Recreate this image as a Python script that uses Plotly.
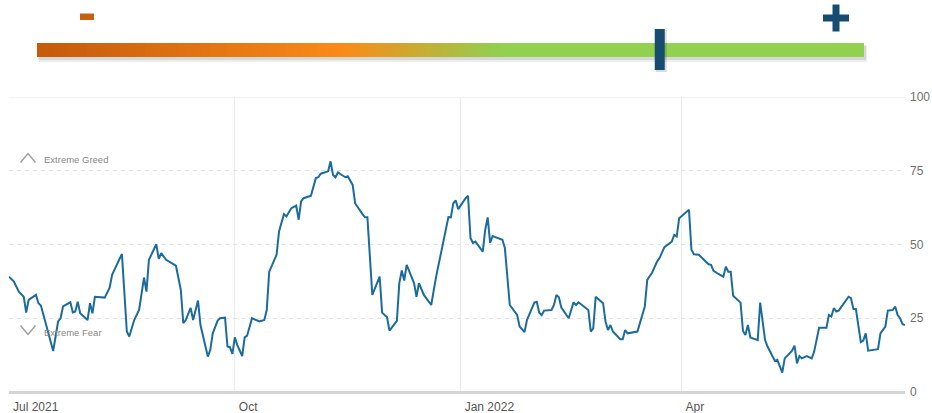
import plotly.graph_objects as go
import numpy as np

W, H = 932, 413

# ---------------- data ----------------
dates = [
    "2021-07-01", "2021-07-03", "2021-07-05", "2021-07-07", "2021-07-08", "2021-07-09",
    "2021-07-12", "2021-07-13", "2021-07-14", "2021-07-16", "2021-07-19", "2021-07-21",
    "2021-07-22", "2021-07-23", "2021-07-26", "2021-07-27", "2021-07-28", "2021-07-29",
    "2021-07-30", "2021-08-02", "2021-08-03", "2021-08-04", "2021-08-05", "2021-08-09",
    "2021-08-11", "2021-08-12", "2021-08-16", "2021-08-18", "2021-08-19", "2021-08-21",
    "2021-08-23", "2021-08-25", "2021-08-26", "2021-08-27", "2021-08-30", "2021-08-31",
    "2021-09-01", "2021-09-03", "2021-09-07", "2021-09-09", "2021-09-10", "2021-09-11",
    "2021-09-13", "2021-09-14", "2021-09-16", "2021-09-17", "2021-09-20", "2021-09-21",
    "2021-09-22", "2021-09-24", "2021-09-25", "2021-09-27", "2021-09-28", "2021-09-29",
    "2021-09-30", "2021-10-01", "2021-10-02", "2021-10-04", "2021-10-05", "2021-10-06",
    "2021-10-08", "2021-10-11", "2021-10-13", "2021-10-14", "2021-10-15", "2021-10-18",
    "2021-10-19", "2021-10-21", "2021-10-22", "2021-10-24", "2021-10-26", "2021-10-27",
    "2021-10-28", "2021-10-29", "2021-11-01", "2021-11-03", "2021-11-04", "2021-11-05",
    "2021-11-08", "2021-11-09", "2021-11-10", "2021-11-11", "2021-11-12", "2021-11-15",
    "2021-11-16", "2021-11-18", "2021-11-19", "2021-11-22", "2021-11-23", "2021-11-24",
    "2021-11-26", "2021-11-29", "2021-11-30", "2021-12-02", "2021-12-03", "2021-12-06",
    "2021-12-07", "2021-12-08", "2021-12-09", "2021-12-10", "2021-12-13", "2021-12-14",
    "2021-12-15", "2021-12-17", "2021-12-20", "2021-12-22", "2021-12-27", "2021-12-28",
    "2021-12-29", "2021-12-30", "2021-12-31", "2022-01-03", "2022-01-04", "2022-01-05",
    "2022-01-06", "2022-01-07", "2022-01-10", "2022-01-11", "2022-01-12", "2022-01-13",
    "2022-01-14", "2022-01-18", "2022-01-19", "2022-01-21", "2022-01-24", "2022-01-25",
    "2022-01-27", "2022-01-28", "2022-01-31", "2022-02-01", "2022-02-02", "2022-02-03",
    "2022-02-04", "2022-02-07", "2022-02-08", "2022-02-09", "2022-02-10", "2022-02-11",
    "2022-02-14", "2022-02-16", "2022-02-17", "2022-02-18", "2022-02-22", "2022-02-23",
    "2022-02-24", "2022-02-25", "2022-02-28", "2022-03-01", "2022-03-02", "2022-03-03",
    "2022-03-04", "2022-03-07", "2022-03-08", "2022-03-09", "2022-03-10", "2022-03-14",
    "2022-03-15", "2022-03-16", "2022-03-17", "2022-03-18", "2022-03-20", "2022-03-22",
    "2022-03-23", "2022-03-25", "2022-03-28", "2022-03-29", "2022-03-30", "2022-03-31",
    "2022-04-04", "2022-04-05", "2022-04-06", "2022-04-08", "2022-04-10", "2022-04-12",
    "2022-04-13", "2022-04-14", "2022-04-16", "2022-04-18", "2022-04-19", "2022-04-20",
    "2022-04-21", "2022-04-22", "2022-04-25", "2022-04-26", "2022-04-27", "2022-04-28",
    "2022-04-29", "2022-05-02", "2022-05-03", "2022-05-04", "2022-05-05", "2022-05-06",
    "2022-05-09", "2022-05-10", "2022-05-11", "2022-05-12", "2022-05-13", "2022-05-16",
    "2022-05-17", "2022-05-18", "2022-05-19", "2022-05-20", "2022-05-22", "2022-05-24",
    "2022-05-25", "2022-05-27", "2022-05-30", "2022-05-31", "2022-06-01", "2022-06-02",
    "2022-06-03", "2022-06-04", "2022-06-08", "2022-06-09", "2022-06-10", "2022-06-11",
    "2022-06-13", "2022-06-14", "2022-06-15", "2022-06-16", "2022-06-20", "2022-06-21",
    "2022-06-23", "2022-06-24", "2022-06-26", "2022-06-27", "2022-06-28", "2022-06-29",
    "2022-06-30", "2022-07-01",
]

index_values = [
    39.1, 37.4, 34.0, 32.3, 26.9, 31.2,
    32.9, 30.1, 29.3, 23.3, 13.9, 23.9,
    25.0, 29.0, 30.4, 27.0, 27.3, 30.6,
    26.7, 24.4, 30.1, 26.7, 32.3, 32.0,
    35.4, 39.7, 46.8, 20.5, 18.8, 24.4,
    27.8, 38.8, 34.0, 44.8, 50.1, 45.1,
    47.1, 44.8, 42.8, 34.6, 23.3, 24.4,
    28.5, 24.4, 31.0, 22.7, 12.0, 14.3,
    19.9, 24.2, 25.0, 25.2, 15.4, 15.2,
    12.9, 18.5, 15.9, 12.2, 18.5, 19.1,
    25.0, 23.9, 24.4, 27.8, 40.8, 46.5,
    54.4, 60.3, 59.5, 62.3, 63.2, 58.4,
    64.6, 65.7, 66.5, 72.5, 72.8, 74.0,
    74.8, 78.2, 73.6, 72.8, 74.4, 72.8,
    73.1, 70.2, 64.0, 60.3, 59.2, 59.2,
    32.9, 39.1, 26.9, 25.3, 20.8, 24.1,
    36.9, 41.2, 37.8, 43.1, 36.9, 32.3,
    36.9, 32.9, 29.5, 39.1, 59.3, 59.2,
    64.0, 64.9, 62.0, 65.7, 66.5, 52.2,
    50.5, 51.0, 47.6, 55.0, 59.2, 50.5,
    52.9, 51.6, 48.8, 29.5, 26.1, 22.2,
    20.3, 24.4, 30.3, 30.6, 26.9, 26.1,
    27.6, 27.8, 29.5, 32.9, 32.1, 28.6,
    25.0, 30.4, 29.5, 30.4, 27.8, 20.5,
    21.6, 32.3, 30.1, 23.9, 21.0, 22.7,
    20.5, 17.9, 17.9, 21.0, 19.9, 20.5,
    23.3, 25.6, 29.0, 38.0, 40.5, 44.2,
    45.4, 49.1, 51.0, 53.3, 52.7, 58.9,
    61.8, 48.2, 46.7, 46.5, 44.8, 43.3,
    43.1, 41.1, 40.0, 39.1, 42.5, 40.8,
    40.8, 32.6, 30.3, 20.7, 19.3, 22.7,
    18.5, 17.6, 30.3, 23.3, 17.6, 15.4,
    10.5, 10.9, 8.4, 6.6, 11.4, 14.0,
    15.7, 9.7, 12.2, 11.4, 12.2, 11.4,
    13.7, 21.8, 21.8, 26.1, 25.6, 28.4,
    27.3, 27.6, 32.3, 31.8, 28.1, 28.1,
    16.9, 17.4, 19.9, 14.0, 14.5, 19.9,
    22.2, 27.6, 27.8, 29.0, 26.1, 25.0,
    23.0, 22.7,
]

x_tick_dates = ["2021-07-01", "2021-10-01", "2022-01-01", "2022-04-01"]
x_tick_labels = ["Jul 2021", "Oct", "Jan 2022", "Apr"]
y_tick_vals = [0, 25, 50, 75, 100]
y_tick_labels = ["0", "25", "50", "75", "100"]

zone_labels = ["Extreme Greed", "Extreme Fear"]

gauge_value = 75.3          # marker position on the 0-100 gauge
gauge_scale = np.arange(0.5, 100, 1.0)

# ---------------- helpers (pixel -> paper) ----------------
def px(x):
    return x / W

def py(y):
    return (H - y) / H

LINE_COLOR = "#1b6c9d"
FONT = "Liberation Sans, Arial, sans-serif"

fig = go.Figure()

# main series
fig.add_trace(go.Scatter(
    x=dates, y=index_values, mode="lines",
    line=dict(color=LINE_COLOR, width=2),
    xaxis="x", yaxis="y", showlegend=False, hoverinfo="x+y",
))

# gauge gradient bar
fig.add_trace(go.Heatmap(
    z=[list(gauge_scale)], x=list(gauge_scale), y=[0.5],
    colorscale=[[0, "#c45a0b"], [0.37, "#fb8a18"], [0.56, "#92d050"], [1, "#92d050"]],
    zmin=0, zmax=100, showscale=False, hoverinfo="skip",
    xaxis="x2", yaxis="y2",
))

shapes = []
# bar shadow (soft)
shapes.append(dict(type="rect", xref="paper", yref="paper",
                   x0=px(39), x1=px(867), y0=py(62), y1=py(46),
                   fillcolor="rgba(0,0,0,0.07)", line=dict(width=0), layer="below"))
shapes.append(dict(type="rect", xref="paper", yref="paper",
                   x0=px(38), x1=px(866), y0=py(60), y1=py(45),
                   fillcolor="rgba(0,0,0,0.09)", line=dict(width=0), layer="below"))
# gauge marker (shadow + bar)
shapes.append(dict(type="rect", xref="x2", yref="paper", xsizemode="pixel",
                   xanchor=gauge_value, x0=-4, x1=7, y0=py(72), y1=py(30),
                   fillcolor="rgba(0,0,0,0.14)", line=dict(width=0)))
shapes.append(dict(type="rect", xref="x2", yref="paper", xsizemode="pixel",
                   xanchor=gauge_value, x0=-5, x1=5, y0=py(70), y1=py(29),
                   fillcolor="#174c71", line=dict(width=0)))
# minus icon
shapes.append(dict(type="rect", xref="paper", yref="paper",
                   x0=px(80), x1=px(94), y0=py(20), y1=py(13.5),
                   fillcolor="#c8600f", line=dict(width=0)))
# plus icon
shapes.append(dict(type="rect", xref="paper", yref="paper",
                   x0=px(823), x1=px(849), y0=py(21.5), y1=py(14.5),
                   fillcolor="#174c71", line=dict(width=0)))
shapes.append(dict(type="rect", xref="paper", yref="paper",
                   x0=px(832.5), x1=px(839.5), y0=py(31.5), y1=py(4.5),
                   fillcolor="#174c71", line=dict(width=0)))
# solid top gridline at 100
shapes.append(dict(type="line", xref="x domain", yref="y",
                   x0=0, x1=1, y0=100, y1=100,
                   line=dict(color="#e8e8e8", width=1), layer="below"))
# chevrons
def chev(x0, x1, ya, yb):
    xm = (x0 + x1) / 2
    return f"M {px(x0)} {py(yb)} L {px(xm)} {py(ya)} L {px(x1)} {py(yb)}"

shapes.append(dict(type="path", xref="paper", yref="paper",
                   path=chev(20.5, 35.5, 153.5, 162.5),
                   line=dict(color="#9a9a9a", width=1.3)))
shapes.append(dict(type="path", xref="paper", yref="paper",
                   path=chev(20.5, 35.5, 334.5, 325.5),
                   line=dict(color="#9a9a9a", width=1.3)))

annotations = [
    dict(text=zone_labels[0], xref="paper", yref="paper", x=px(41.5), y=py(159.5),
         xanchor="left", yanchor="middle", showarrow=False,
         font=dict(family=FONT, size=9.5, color="#8a8a8a")),
    dict(text=zone_labels[1], xref="paper", yref="paper", x=px(41.5), y=py(332.5),
         xanchor="left", yanchor="middle", showarrow=False,
         font=dict(family=FONT, size=9.5, color="#8a8a8a")),
]

fig.update_layout(
    width=W, height=H, autosize=False,
    margin=dict(l=0, r=0, t=0, b=0, pad=0),
    paper_bgcolor="white", plot_bgcolor="white",
    font=dict(family=FONT),
    showlegend=False,
    xaxis=dict(
        type="date", domain=[px(9), px(905)],
        range=["2021-07-01", "2022-07-01"],
        tickvals=x_tick_dates, ticktext=x_tick_labels,
        ticklabelposition="outside right",
        ticklabelshift=4, ticklabelstandoff=6,
        ticks="", showgrid=True, gridcolor="#ebebeb", gridwidth=1,
        showline=False, zeroline=False, automargin=False,
        tickfont=dict(family=FONT, size=12, color="#555555"),
        anchor="y", fixedrange=True,
    ),
    yaxis=dict(
        domain=[py(392), py(97)], range=[0, 100], side="right",
        tickvals=y_tick_vals, ticktext=y_tick_labels,
        ticklabelstandoff=4,
        ticks="", showgrid=True, gridcolor="#e3e3e3", gridwidth=1,
        griddash="4px,4px",
        zeroline=True, zerolinecolor="#d5d5d5", zerolinewidth=2.5,
        showline=False, automargin=False,
        tickfont=dict(family=FONT, size=12, color="#707070"),
        anchor="x", fixedrange=True,
    ),
    xaxis2=dict(domain=[px(37), px(864)], range=[0, 100], visible=False,
                anchor="y2", fixedrange=True),
    yaxis2=dict(domain=[py(57), py(43)], range=[0, 1], visible=False,
                anchor="x2", fixedrange=True),
    shapes=shapes,
    annotations=annotations,
)

fig.write_html("out.html", config={"displayModeBar": False})
